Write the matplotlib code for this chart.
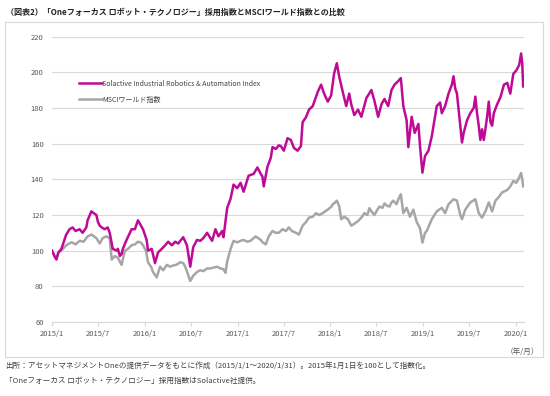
import numpy as np
import pandas as pd
import matplotlib
matplotlib.use("Agg")
import matplotlib.pyplot as plt
import matplotlib.dates as mdates
from matplotlib.patches import Rectangle

plt.rcParams["font.family"] = ["Noto Sans CJK JP", "DejaVu Sans"]

# months elapsed since 2015/1/1 and index values
s_month = [0.00, 0.31, 0.57, 0.83, 1.22, 1.84, 2.27, 2.66, 3.05, 3.57, 3.96, 4.44, 4.61, 5.09,
           5.39, 5.74, 5.95, 6.17, 6.43, 6.82, 7.21, 7.47, 7.86, 8.35, 8.52, 8.78, 9.00, 9.17,
           9.65, 10.30, 10.73, 11.12, 11.38, 11.77, 12.25, 12.42, 12.90, 13.33, 13.72, 14.21,
           14.64, 15.03, 15.51, 15.94, 16.33, 16.98, 17.46, 17.89, 18.28, 18.76, 19.19, 19.58,
           20.07, 20.72, 21.15, 21.54, 22.02, 22.19, 22.67, 23.10, 23.49, 23.97, 24.40, 24.79,
           25.44, 26.09, 26.58, 27.01, 27.23, 27.40, 27.88, 28.31, 28.53, 28.96, 29.35, 29.61,
           30.00, 30.48, 30.91, 31.30, 31.78, 32.21, 32.43, 32.86, 33.25, 33.74, 34.39, 34.82,
           35.21, 35.69, 36.12, 36.51, 36.86, 37.16, 37.64, 38.07, 38.46, 38.72, 39.11, 39.60,
           40.03, 40.68, 41.33, 41.72, 42.20, 42.63, 43.02, 43.50, 43.93, 44.32, 44.80, 45.14,
           45.46, 45.89, 46.11, 46.54, 46.93, 47.41, 47.62, 47.93, 48.27, 48.71, 49.14, 49.79,
           50.22, 50.44, 50.87, 51.31, 51.74, 51.96, 52.17, 52.40, 52.62, 52.83, 53.05, 53.27,
           53.70, 54.13, 54.57, 54.78, 55.00, 55.22, 55.43, 55.65, 55.87, 56.08, 56.30, 56.52,
           56.73, 56.95, 57.17, 57.60, 58.03, 58.48, 58.91, 59.30, 59.69, 60.08, 60.45, 60.70,
           60.85, 60.97]
solactive = [100, 97, 95, 99, 101, 109, 112, 113, 111, 112, 110, 113, 117, 122,
             121, 120, 116, 114, 113, 112, 113, 110, 101, 100, 101, 97, 98, 101,
             106, 112, 112, 117, 115, 112, 106, 100, 101, 93, 99, 101,
             103, 105, 103, 105, 104, 107.5, 103, 91, 102, 106, 105.5, 107,
             110, 105.5, 112, 108, 111, 107.5, 124, 129, 137, 135, 138, 133,
             142, 143, 146.6, 143, 141.5, 136, 147, 152, 158, 157, 159, 158.6,
             156, 163, 162, 157.6, 156, 158.6, 172, 174.7, 179, 181, 189, 193,
             188, 183.5, 187, 199.4, 205, 197.6, 188.6, 181, 188, 182, 176, 179,
             175, 185.5, 190, 184, 175, 182, 185, 181, 190, 193, 195, 196.7,
             181, 173, 158, 175, 166, 171, 158.6, 143.7, 153, 156, 164, 181,
             183, 177, 181, 188, 193, 197.7, 191, 188, 179, 170, 160.6, 166,
             173, 177, 180, 186.3, 177, 170, 162, 168, 162, 168, 175, 183.5,
             172, 170, 177, 182, 186, 193, 194, 188, 199, 201, 204, 210.5,
             205, 192]

m_month = [0.00, 0.31, 0.57, 0.83, 1.22, 1.84, 2.53, 3.05, 3.57, 4.09, 4.61, 5.13, 5.74, 6.17,
           6.56, 7.04, 7.47, 7.73, 8.13, 8.52, 9.00, 9.43, 9.82, 10.30, 10.73, 11.12, 11.51,
           11.77, 12.16, 12.42, 12.81, 13.07, 13.55, 13.98, 14.38, 14.86, 15.29, 15.68, 16.07,
           16.59, 16.98, 17.24, 17.89, 18.28, 18.76, 19.19, 19.58, 20.07, 20.49, 20.89, 21.37,
           21.80, 22.19, 22.45, 22.67, 23.10, 23.49, 23.97, 24.40, 24.79, 25.27, 25.70, 26.35,
           27.01, 27.23, 27.66, 28.05, 28.53, 28.96, 29.35, 29.83, 30.26, 30.65, 31.04, 31.56,
           31.95, 32.43, 32.86, 33.25, 33.74, 34.17, 34.56, 35.04, 35.34, 35.69, 36.12, 36.34,
           36.64, 36.86, 37.16, 37.42, 37.81, 38.29, 38.72, 39.11, 39.60, 40.03, 40.42, 40.81,
           41.07, 41.33, 41.72, 42.11, 42.37, 42.76, 43.02, 43.41, 43.67, 43.93, 44.15, 44.58,
           44.84, 45.14, 45.46, 45.89, 46.32, 46.76, 47.19, 47.62, 47.93, 48.27, 48.49, 49.14,
           49.79, 50.44, 50.87, 51.31, 51.96, 52.40, 52.83, 53.05, 53.48, 54.13, 54.78, 55.22,
           55.65, 56.08, 56.52, 56.95, 57.38, 57.81, 58.24, 58.91, 59.30, 59.69, 60.08, 60.45,
           60.70, 60.85, 60.97]
msci = [100, 97, 95.5, 99, 100, 103, 104.7, 103.5, 105.5, 105, 108, 109, 107, 104,
        107, 108, 107, 95, 97, 96, 92, 100, 101, 103, 103.5, 105, 104.5,
        103, 100, 93.5, 91, 88, 85, 91, 89, 92, 91, 91.7, 92,
        93.5, 93, 91, 83, 86, 88, 89, 88.5, 90, 90, 90.5, 91,
        90, 89.6, 87.5, 94, 100.8, 105.5, 104.6, 105.5, 106, 105, 105.5, 108,
        106, 104.7, 103.5, 108, 111, 110, 110, 112, 111, 113, 111, 110,
        109, 114, 116, 118.5, 119, 121, 120, 121, 122, 123, 124.5, 126,
        127, 128, 125, 117.6, 119, 117.6, 114, 115, 116.6, 118.5, 121, 120,
        123.8, 122, 120, 123, 124.7, 124, 126.4, 125, 124.7, 127, 128, 126,
        129, 131.6, 121, 124, 119, 123, 116, 112.6, 104.5, 110, 111, 117.6,
        122, 124, 121, 126, 128.8, 128, 120, 117.6, 123, 127, 128.8, 121,
        118.5, 122, 127, 122, 128, 130, 132.6, 134, 136, 139, 138, 141,
        143.5, 140, 136]

series_labels = ["Solactive Industrial Robotics & Automation Index", "MSCIワールド指数"]
tick_dates = pd.date_range("2015-01-01", "2020-01-01", freq="6MS")
tick_labels = [f"{d.year}/{d.month}" for d in tick_dates]
y_ticks = [60, 80, 100, 120, 140, 160, 180, 200, 220]

title = "（図表2）「Oneフォーカス ロボット・テクノロジー」採用指数とMSCIワールド指数との比較"
note1 = "出所：アセットマネジメントOneの提供データをもとに作成（2015/1/1～2020/1/31）。2015年1月1日を100として指数化。"
note2 = "「Oneフォーカス ロボット・テクノロジー」採用指数はSolactive社提供。"

start = pd.Timestamp("2015-01-01")
s_dates = start + pd.to_timedelta(np.array(s_month) * 30.4375, unit="D")
m_dates = start + pd.to_timedelta(np.array(m_month) * 30.4375, unit="D")

W, H = 550, 396
fig = plt.figure(figsize=(W / 100, H / 100), dpi=100)
ax = fig.add_axes([52 / W, 1 - 322 / H, 472 / W, 285.5 / H])

ax.plot(m_dates, msci, color="#a6a6a6", lw=1.8, label=series_labels[1], zorder=3)
ax.plot(s_dates, solactive, color="#bf0a96", lw=1.8, label=series_labels[0], zorder=4)

ax.set_ylim(60, 220)
ax.set_xlim(pd.Timestamp("2015-01-01"), pd.Timestamp("2020-02-03"))
ax.set_yticks(y_ticks)
ax.set_xticks(tick_dates)
ax.set_xticklabels(tick_labels)
ax.grid(axis="y", color="#d9d9d9", lw=0.8)
ax.set_axisbelow(True)
for side in ["top", "right", "left"]:
    ax.spines[side].set_visible(False)
ax.spines["bottom"].set_color("#d9d9d9")
ax.spines["bottom"].set_linewidth(0.8)
ax.tick_params(axis="y", length=0, pad=6, labelsize=5.5, labelcolor="#595959")
ax.tick_params(axis="x", length=3, color="#d9d9d9", pad=3, labelsize=5.5, labelcolor="#595959")

handles, labels = ax.get_legend_handles_labels()
leg = ax.legend(handles[::-1], labels[::-1], loc="upper left", bbox_to_anchor=(0.045, 0.87),
                frameon=False, fontsize=5, handlelength=3.2, handletextpad=0.1, labelspacing=1.1,
                labelcolor="#404040")

fig.text(522 / W, 1 - 352 / H, "（年/月）", fontsize=5.5, color="#595959", ha="center", va="center")
fig.patches.append(Rectangle((5 / W, 1 - 357 / H), 538 / W, 335 / H, transform=fig.transFigure,
                             fill=False, edgecolor="#d9d9d9", lw=0.8))
fig.text(6 / W, 1 - 12 / H, title, fontsize=5.8, fontweight="bold", color="#222222", va="center")
fig.text(5 / W, 1 - 366 / H, note1, fontsize=5.5, color="#404040", va="center")
fig.text(5 / W, 1 - 381 / H, note2, fontsize=5.5, color="#404040", va="center")

fig.savefig("out.png", dpi=100)
